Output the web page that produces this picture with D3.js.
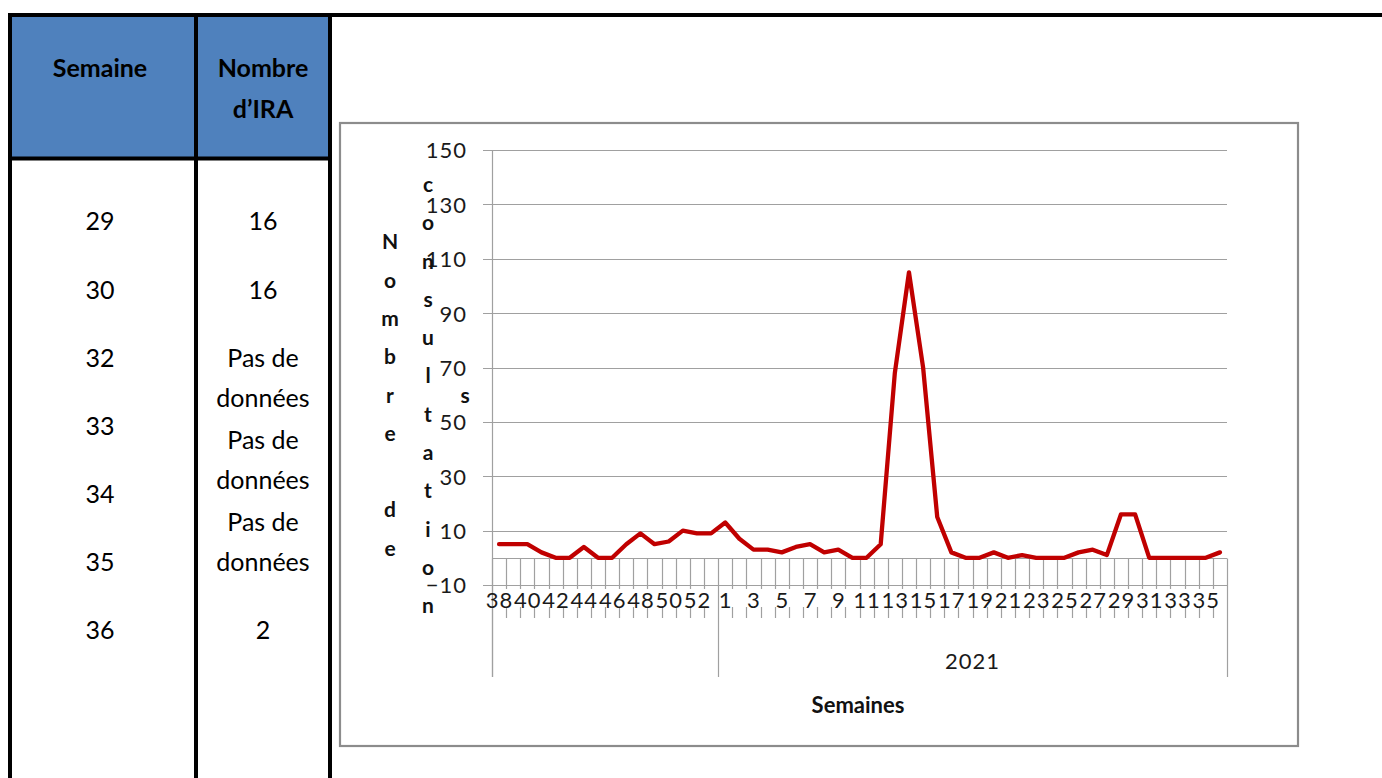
<!DOCTYPE html>
<html>
<head>
<meta charset="utf-8">
<script src="https://cdn.jsdelivr.net/npm/d3@7"></script>
<style>
  html, body { margin: 0; padding: 0; background: #fff; }
  svg { display: block; font-family: Lato, "Open Sans", sans-serif; }
</style>
</head>
<body>
<svg id="chart" width="1382" height="778"></svg>
<script>
// ---------- data ----------
const weeks2020 = [38,39,40,41,42,43,44,45,46,47,48,49,50,51,52,53];
const values2020 = [5,5,5,2,0,0,4,0,0,5,9,5,6,10,9,9];
const weeks2021 = [1,2,3,4,5,6,7,8,9,10,11,12,13,14,15,16,17,18,19,20,21,22,23,24,25,26,27,28,29,30,31,32,33,34,35,36];
const values2021 = [13,7,3,3,2,4,5,2,3,0,0,5,68,105,70,15,2,0,0,2,0,1,0,0,0,2,3,1,16,16,0,0,0,0,0,2];
const groupLabels = ["", "2021"];
const yTicks = [-10,10,30,50,70,90,110,130,150];

const tableHeaders = ["Semaine", "Nombre\nd\u2019IRA"];
const tableWeeks = ["29","30","32","33","34","35","36"];
const tableCountLines = ["16","16","Pas de","données","Pas de","données","Pas de","données","2"];

const yTitleCols = ["Nombre de", "consultation", "s"];
const xTitle = "Semaines";

// ---------- build ----------
const svg = d3.select("#chart");

const cats = [];
weeks2020.forEach((w,i)=>cats.push({key:"2020-"+w, week:w, value:values2020[i], group:0}));
weeks2021.forEach((w,i)=>cats.push({key:"2021-"+w, week:w, value:values2021[i], group:1}));

// ---------- table ----------
const tbl = svg.append("g");
tbl.append("rect").attr("x",10).attr("y",15).attr("width",320).attr("height",143.5).attr("fill","#4F81BD");
const thick = {stroke:"#000","stroke-width":4};
function line(g,x1,y1,x2,y2,attrs){
  const l=g.append("line").attr("x1",x1).attr("y1",y1).attr("x2",x2).attr("y2",y2);
  Object.entries(attrs).forEach(([k,v])=>l.attr(k,v));
  return l;
}
line(tbl,8,15,1382,15,thick);
line(tbl,10,13,10,778,thick);
line(tbl,196,13,196,778,thick);
line(tbl,330,13,330,778,thick);
line(tbl,8,158.5,332,158.5,thick);

const colX = [100, 263];
tableHeaders.forEach((h,i)=>{
  h.split("\n").forEach((t,j)=>{
    tbl.append("text").attr("x",colX[i]).attr("y",77 + j*41)
      .attr("text-anchor","middle").attr("font-weight","bold").attr("font-size",25)
      .attr("fill","#000").text(t);
  });
});
const rowY1 = [221, 290, 358, 426, 494, 562, 630];
tableWeeks.forEach((t,i)=>{
  tbl.append("text").attr("x",colX[0]).attr("y",rowY1[i]).attr("dy","0.36em").attr("text-anchor","middle")
    .attr("font-size",25).attr("fill","#000").text(t);
});
const rowY2 = [221, 290, 358, 398, 440, 480, 522, 562, 630];
tableCountLines.forEach((t,i)=>{
  tbl.append("text").attr("x",colX[1]).attr("y",rowY2[i]).attr("dy","0.36em").attr("text-anchor","middle")
    .attr("font-size",25).attr("fill","#000").text(t);
});

// ---------- chart ----------
svg.append("rect").attr("x",340).attr("y",123).attr("width",958).attr("height",623)
  .attr("fill","none").attr("stroke","#8c8c8c").attr("stroke-width",2.2);

const x0 = 492, x1 = 1227;
const x = d3.scaleBand().domain(cats.map(d=>d.key)).range([x0,x1]).paddingInner(0).paddingOuter(0);
const y = d3.scaleLinear().domain([-10,150]).range([585,150]);
const gridColor = "#a0a0a0";

const grid = svg.append("g");
yTicks.forEach(t=>{
  grid.append("line").attr("x1",483).attr("x2",x1).attr("y1",Math.round(y(t))+0.5).attr("y2",Math.round(y(t))+0.5)
    .attr("stroke",gridColor).attr("stroke-width",1.2);
});
grid.append("line").attr("x1",x0+0.5).attr("x2",x0+0.5).attr("y1",y(150)).attr("y2",677).attr("stroke",gridColor).attr("stroke-width",1.2);

// y tick labels
const yAxis = d3.axisLeft(y).tickValues(yTicks).tickSize(0).tickPadding(0);
const yg = svg.append("g").attr("transform","translate(467,0)").call(yAxis);
yg.select(".domain").remove();
yg.selectAll("text").attr("font-family","Lato, 'Open Sans', sans-serif").attr("font-size",22)
  .attr("letter-spacing",1).attr("fill","#1a1a1a").attr("dy","0.36em");

// category axis line at 0
const y0 = Math.round(y(0))+0.5;
grid.append("line").attr("x1",x0).attr("x2",x1).attr("y1",y0).attr("y2",y0).attr("stroke",gridColor).attr("stroke-width",1.2);

// category boundary ticks
const bw = x.bandwidth();
cats.forEach((d,i)=>{
  if (i === cats.length-1) return;
  if (cats[i+1].group !== d.group) return;
  const bx = Math.round(x(d.key)+bw)+0.5;
  grid.append("line").attr("x1",bx).attr("x2",bx).attr("y1",y0).attr("y2",589).attr("stroke",gridColor).attr("stroke-width",1.2);
  grid.append("line").attr("x1",bx).attr("x2",bx).attr("y1",607).attr("y2",618).attr("stroke",gridColor).attr("stroke-width",1.2);
});
// group dividers
const groupBounds = [x0];
cats.forEach((d,i)=>{ if(cats[i+1] && cats[i+1].group!==d.group) groupBounds.push(x(cats[i+1].key)); });
groupBounds.push(x1);
groupBounds.forEach(b=>{
  const bx = Math.round(b)+0.5;
  grid.append("line").attr("x1",bx).attr("x2",bx).attr("y1",y0).attr("y2",677).attr("stroke",gridColor).attr("stroke-width",1.2);
});

// category labels (every other)
const labG = svg.append("g");
cats.forEach((d,i)=>{
  if (i % 2 !== 0) return;
  labG.append("text").attr("x",x(d.key)+bw/2+0.5).attr("y",600).attr("dy","0.36em").attr("text-anchor","middle")
    .attr("font-size",22).attr("letter-spacing",1).attr("fill","#1a1a1a").text(d.week);
});
groupLabels.forEach((g,i)=>{
  if(!g) return;
  const cx = (groupBounds[i]+groupBounds[i+1])/2;
  labG.append("text").attr("x",cx).attr("y",661).attr("dy","0.36em").attr("text-anchor","middle")
    .attr("font-size",22).attr("letter-spacing",1).attr("fill","#1a1a1a").text(g);
});

// line
const lineGen = d3.line().x(d=>x(d.key)+bw/2).y(d=>y(d.value));
svg.append("path").datum(cats).attr("d",lineGen).attr("fill","none")
  .attr("stroke","#C00000").attr("stroke-width",4.3).attr("stroke-linejoin","round").attr("stroke-linecap","round");

// y title (stacked letters)
const colXs = [390, 428, 465];
const pitch = 38.3;
yTitleCols.forEach((s,ci)=>{
  const n = s.length;
  s.split("").forEach((ch,k)=>{
    if (ch === " ") return;
    svg.append("text").attr("x",colXs[ci]).attr("y",395 + (k-(n-1)/2)*pitch).attr("dy","0.36em")
      .attr("text-anchor","middle").attr("font-weight","bold").attr("font-size",21).attr("fill","#111").text(ch);
  });
});

// x title
svg.append("text").attr("x",858).attr("y",705).attr("dy","0.36em").attr("text-anchor","middle").attr("font-weight","bold")
  .attr("font-size",22).attr("fill","#111").text(xTitle);
</script>
</body>
</html>
